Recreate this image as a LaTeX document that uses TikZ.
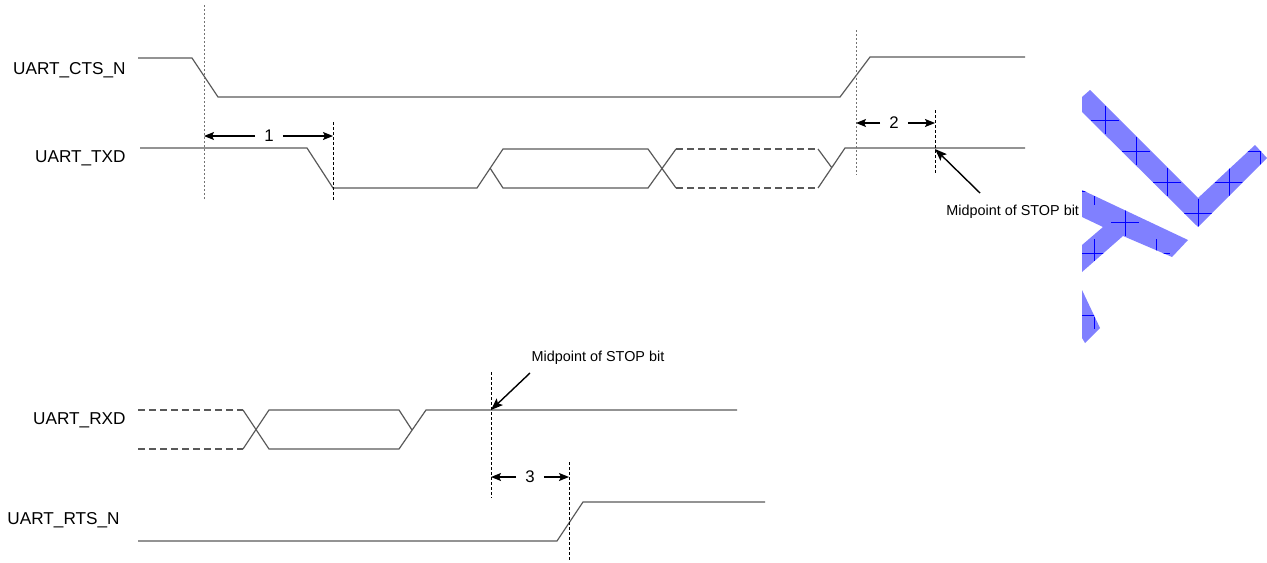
\documentclass[tikz,border=0pt]{standalone}
\usepackage{fontspec}
\setmainfont{Liberation Sans}
\usetikzlibrary{arrows.meta}

\begin{document}
\begin{tikzpicture}[
		x=0.5pt, y=-0.5pt,
		every node/.style={font=\fontsize{8.6}{10}\selectfont},
		siglabel/.style={anchor=east, inner sep=0pt},
		wave/.style={black!65, line width=0.6pt},
		unknown/.style={wave, dash pattern=on 3.5pt off 2pt},
		refline/.style={black!55, line width=0.5pt, dash pattern=on 1pt off 1pt},
		cutline/.style={black, line width=0.5pt, dash pattern=on 1.5pt off 1pt},
		dimarrow/.style={-{Stealth[length=5pt,width=4pt,inset=1pt]}, black, line width=0.6pt},
		dimlabel/.style={inner xsep=4.4pt, inner ysep=1pt, font=\fontsize{8.4}{10}\selectfont},
		pointer/.style={-{Stealth[length=6pt,width=4.5pt,inset=1.2pt]}, black, line width=0.7pt},
		note/.style={font=\fontsize{7.2}{9}\selectfont, inner sep=1pt},
		wmark/.style={fill=blue!50},
		wcross/.style={blue, line width=0.5pt}
	]
	\useasboundingbox (0,0) rectangle (1267,562);

	% Signal names
	\foreach \id/\x/\y/\txt in {cts/126/70/UART\_CTS\_N, txd/126/158/UART\_TXD,
			rxd/126/420/UART\_RXD, rts/120/520/UART\_RTS\_N} {
			\node[siglabel] (\id) at (\x,\y) {\txt};
		}

	% Waveforms
	\draw[wave] (138,58) -- (192,58) -- (218,97) -- (840,97) -- (870,57) -- (1025,57);
	\draw[wave] (140,148) -- (307,148) -- (333,188) -- (477,188) -- (503,149) -- (648,149) -- (676,188);
	\draw[wave] (490,168) -- (503,188) -- (648,188) -- (676,149);
	\draw[unknown] (676,149) -- (818,149) (676,188) -- (818,188);
	\draw[wave] (818,149) -- (832,168) (818,188) -- (845,148) -- (1025,148);
	\draw[unknown] (138,410) -- (243,410) (138,449) -- (243,449);
	\draw[wave] (243,410) -- (269,449) -- (399,449) -- (426,410) -- (737,410);
	\draw[wave] (243,449) -- (269,410) -- (399,410) -- (412,430);
	\draw[wave] (138,541) -- (557,541) -- (583,502) -- (765,502);

	% Timing reference lines
	\draw[refline] (204,5) -- (204,200);
	\draw[refline] (856,30) -- (856,175);
	\foreach \x/\ya/\yb in {333/122/200, 935/110/175, 491/372/498, 569/462/562} {
			\draw[cutline] (\x,\ya) -- (\x,\yb);
		}

	% Intervals 1, 2, 3
	\foreach \n/\xa/\xm/\xb/\y in {1/204/269/333/136, 2/856/894/935/123, 3/491/530/569/477} {
			\coordinate (d\n a) at (\xa,\y);
			\coordinate (d\n b) at (\xb,\y);
			\node[dimlabel] (n\n) at (\xm,\y) {\n};
			\draw[dimarrow] (n\n.west) -- (d\n a);
			\draw[dimarrow] (n\n.east) -- (d\n b);
		}

	% Stop bit callouts
	\node[note, anchor=west] (stop1) at (944,212) {Midpoint of STOP bit};
	\coordinate (t1) at (980,193);
	\coordinate (p1) at (935,149);
	\draw[pointer] (t1) -- (p1);
	\node[note] (stop2) at (598,358) {Midpoint of STOP bit};
	\coordinate (t2) at (530,373);
	\coordinate (p2) at (491,410);
	\draw[pointer] (t2) -- (p2);

	% Blue mark at the right edge
	\fill[wmark] (1082,97) -- (1090,90) -- (1198,198) -- (1255,145) -- (1267,158) -- (1198,227) -- (1082,112) -- cycle;
	\fill[wmark] (1082,190) -- (1188,240) -- (1172,257) -- (1123,236) -- (1082,272) -- (1082,245) -- (1103,227) -- (1082,217) -- cycle;
	\fill[wmark] (1082,290) -- (1100,328) -- (1085,343) -- (1082,338) -- cycle;
	\begin{scope}
		\clip (1082,97) -- (1090,90) -- (1198,198) -- (1255,145) -- (1267,158) -- (1198,227) -- (1082,112) -- cycle;
		\foreach \i in {0,...,5} {
				\foreach \j in {-1,...,3} {
						\ifodd\numexpr\i+\j\relax\else
							\draw[wcross] (1105+31*\i-14,120+31*\j) -- ++(28,0) (1105+31*\i,120+31*\j-14) -- ++(0,28);
						\fi
					}
			}
	\end{scope}
	\begin{scope}
		\clip (1082,190) -- (1188,240) -- (1172,257) -- (1123,236) -- (1082,272) -- (1082,245) -- (1103,227) -- (1082,217) -- cycle
		(1082,290) -- (1100,328) -- (1085,343) -- (1082,338) -- cycle;
		\foreach \i in {-1,...,3} {
				\foreach \j in {-1,...,5} {
						\ifodd\numexpr\i+\j\relax\else
							\draw[wcross] (1094+31*\i-14,191+31*\j) -- ++(28,0) (1094+31*\i,191+31*\j-14) -- ++(0,28);
						\fi
					}
			}
	\end{scope}
\end{tikzpicture}
\end{document}
